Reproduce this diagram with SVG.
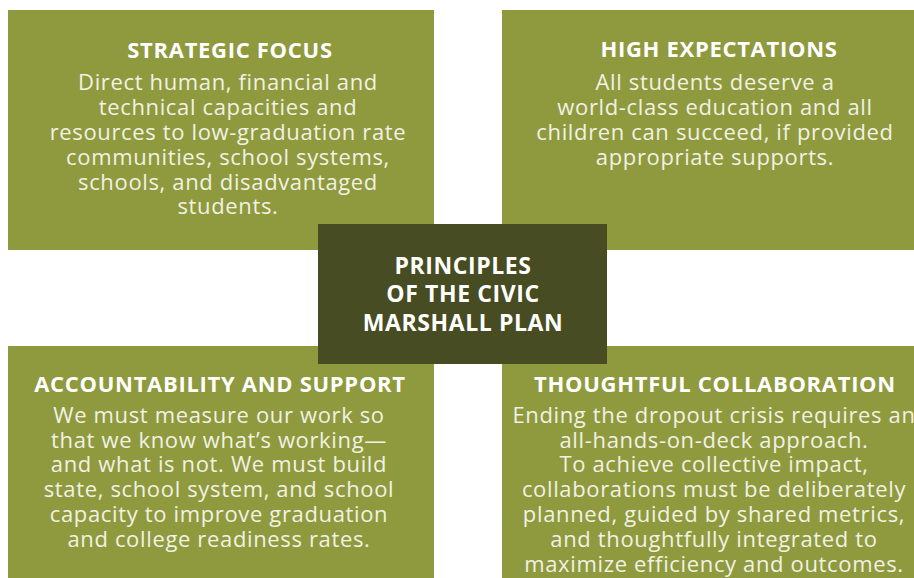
<svg xmlns="http://www.w3.org/2000/svg" width="914" height="578" viewBox="0 0 914 578">
<style>
.box{fill:#8f9a3e}
.center{fill:#474c22}
.t{font-family:"Open Sans","Liberation Sans",sans-serif;font-weight:700;font-size:22px;letter-spacing:0.7px;fill:#ffffff;text-anchor:middle}
.c{font-size:23px;letter-spacing:0.6px}
.b{font-family:"Open Sans","Liberation Sans",sans-serif;font-weight:400;font-size:22px;letter-spacing:0.65px;fill:#f1f1e4;text-anchor:middle}
</style>
<rect width="914" height="578" fill="#ffffff"/>
<g id="strategic-focus">
<rect class="box" x="8" y="10" width="426" height="240"/>
<text class="t" x="230" y="58">STRATEGIC FOCUS</text>
<text class="b" x="228" y="90">Direct human, financial and</text>
<text class="b" x="228" y="115">technical capacities and</text>
<text class="b" x="228" y="140">resources to low-graduation rate</text>
<text class="b" x="228" y="165">communities, school systems,</text>
<text class="b" x="228" y="190">schools, and disadvantaged</text>
<text class="b" x="228" y="214">students.</text>
</g>
<g id="high-expectations">
<rect class="box" x="502" y="10" width="412" height="240"/>
<text class="t" x="719" y="57">HIGH EXPECTATIONS</text>
<text class="b" x="715" y="90">All students deserve a</text>
<text class="b" x="715" y="115">world-class education and all</text>
<text class="b" x="715" y="140">children can succeed, if provided</text>
<text class="b" x="715" y="165">appropriate supports.</text>
</g>
<g id="accountability-and-support">
<rect class="box" x="8" y="346" width="426" height="232"/>
<text class="t" x="220" y="392">ACCOUNTABILITY AND SUPPORT</text>
<text class="b" x="219" y="423">We must measure our work so</text>
<text class="b" x="219" y="448">that we know what’s working—</text>
<text class="b" x="219" y="472">and what is not. We must build</text>
<text class="b" x="219" y="497">state, school system, and school</text>
<text class="b" x="219" y="522">capacity to improve graduation</text>
<text class="b" x="219" y="547">and college readiness rates.</text>
</g>
<g id="thoughtful-collaboration">
<rect class="box" x="502" y="346" width="412" height="232"/>
<text class="t" x="715" y="392">THOUGHTFUL COLLABORATION</text>
<text class="b" x="714" y="423">Ending the dropout crisis requires an</text>
<text class="b" x="714" y="448">all-hands-on-deck approach.</text>
<text class="b" x="714" y="472">To achieve collective impact,</text>
<text class="b" x="714" y="497">collaborations must be deliberately</text>
<text class="b" x="714" y="522">planned, guided by shared metrics,</text>
<text class="b" x="714" y="547">and thoughtfully integrated to</text>
<text class="b" x="714" y="572">maximize efficiency and outcomes.</text>
</g>
<g id="principles">
<rect class="center" x="318" y="224" width="289" height="140"/>
<text class="t c" x="463" y="274">PRINCIPLES</text>
<text class="t c" x="463" y="302">OF THE CIVIC</text>
<text class="t c" x="463" y="331">MARSHALL PLAN</text>
</g>
<g id="connectors"></g>
</svg>
